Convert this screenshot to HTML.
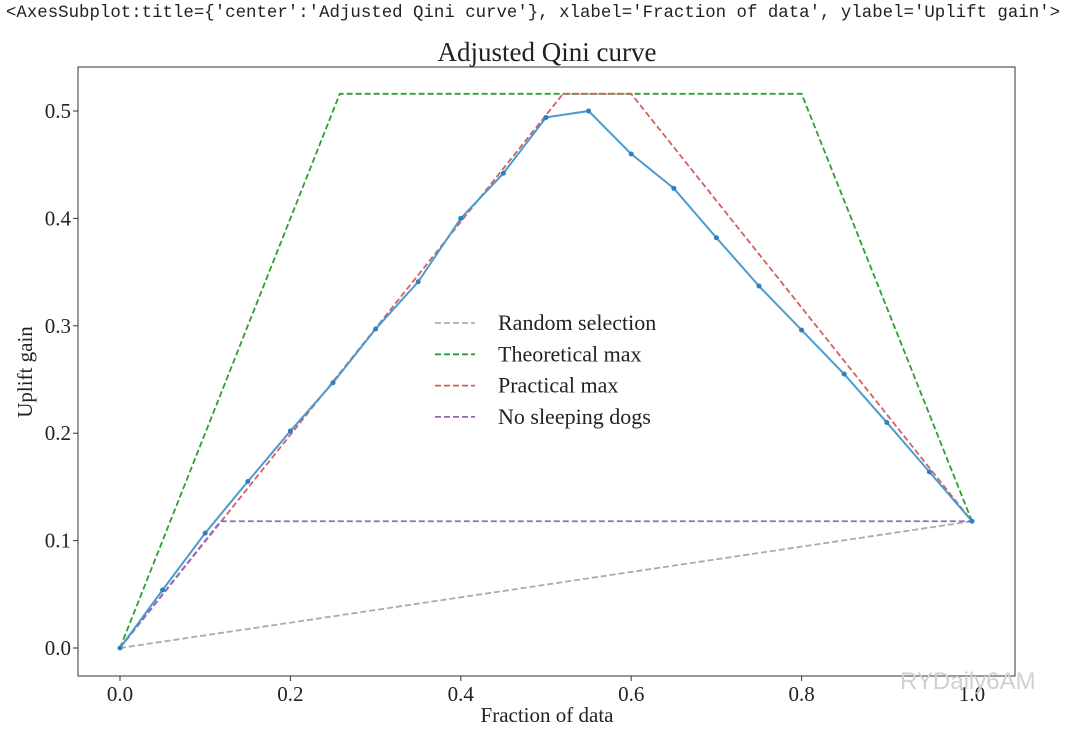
<!DOCTYPE html>
<html><head><meta charset="utf-8"><style>
body{margin:0;background:#fff;width:1080px;height:730px;overflow:hidden}
#hdr{position:absolute;left:6px;top:4px;font:17.4px "Liberation Mono",monospace;color:#222;white-space:pre}
svg{position:absolute;left:0;top:0}
text{font-family:"Liberation Serif",serif;fill:#222}
</style></head><body>
<div id="hdr">&lt;AxesSubplot:title={'center':'Adjusted Qini curve'}, xlabel='Fraction of data', ylabel='Uplift gain'&gt;</div>
<svg id="c" width="1080" height="730"></svg>
<script>
const xs=[0,0.05,0.1,0.15,0.2,0.25,0.3,0.35,0.4,0.45,0.5,0.55,0.6,0.65,0.7,0.75,0.8,0.85,0.9,0.95,1.0];
const model=[0,0.054,0.107,0.155,0.202,0.247,0.297,0.341,0.400,0.442,0.494,0.500,0.460,0.428,0.382,0.337,0.296,0.255,0.210,0.164,0.118];
const randX=[0,1],randY=[0,0.118];
const theoX=[0,0.258,0.8,1],theoY=[0,0.516,0.516,0.118];
const pracX=[0,0.52,0.6,1],pracY=[0,0.516,0.516,0.118];
const nsdX=[0,0.118,1],nsdY=[0,0.118,0.118];
const xTicks=[0,0.2,0.4,0.6,0.8,1.0];
const yTicks=[0,0.1,0.2,0.3,0.4,0.5];
const legendLabels=["Random selection","Theoretical max","Practical max","No sleeping dogs"];
const legendColors=["#aaaaaa","#2ca02c","#d0625f","#9467bd"];

const svg=document.getElementById('c');const NS='http://www.w3.org/2000/svg';
const X=v=>120+v*852, Y=v=>648-v*1074;
function el(t,a,p){const e=document.createElementNS(NS,t);for(const k in a)e.setAttribute(k,a[k]);(p||svg).appendChild(e);return e;}
const frame=el('rect',{x:78,y:67,width:937,height:609,fill:'none',stroke:'#333','stroke-width':1});


xTicks.forEach(v=>{
 const t=el('line',{x1:X(v),x2:X(v),y1:676,y2:681,stroke:'#333'});
 
 
 const l=el('text',{x:X(v),y:701,'text-anchor':'middle','font-size':21});l.textContent=v.toFixed(1);
 
 
});
yTicks.forEach(v=>{
 const t=el('line',{x1:73,x2:78,y1:Y(v),y2:Y(v),stroke:'#333'});
 
 
 const l=el('text',{x:71,y:Y(v)+7,'text-anchor':'end','font-size':21});l.textContent=v.toFixed(1);
 
 
});
function line(xa,ya,color,dash,name,w){
 const p=el('polyline',{points:xa.map((x,i)=>X(x)+','+Y(ya[i])).join(' '),fill:'none',stroke:color,'stroke-width':w||1.8,'stroke-dasharray':dash||'none'});
 
 
}
line(randX,randY,legendColors[0],'6,3','random-selection-line');
line(theoX,theoY,legendColors[1],'6,3','theoretical-max-line');
line(pracX,pracY,legendColors[2],'6,3','practical-max-line');
line(nsdX,nsdY,legendColors[3],'6,3','no-sleeping-dogs-line');
line(xs,model,'#4a9bd0',null,'model-qini-line',2);
xs.forEach((x,i)=>{
 const c=el('circle',{cx:X(x),cy:Y(model[i]),r:2.5,fill:'#2f7fbf'});
 
 
});
legendLabels.forEach((lab,i)=>{
 const y=323+i*31.3;
 const l=el('line',{x1:435,x2:475,y1:y,y2:y,stroke:legendColors[i],'stroke-width':1.8,'stroke-dasharray':'6,3'});
 
 
 const t=el('text',{x:498,y:y+7,'font-size':22});t.textContent=lab;
 
 
});
const ti=el('text',{x:547,y:61,'text-anchor':'middle','font-size':27});ti.textContent='Adjusted Qini curve';


const xl=el('text',{x:547,y:722,'text-anchor':'middle','font-size':21});xl.textContent='Fraction of data';


const yl=el('text',{x:0,y:0,'text-anchor':'middle','font-size':21,transform:'translate(32,372) rotate(-90)'});yl.textContent='Uplift gain';


const wm=el('text',{x:900,y:689,'font-size':24});wm.textContent='RYDaily6AM';
wm.setAttribute('style','fill:#d0d0d0;font-family:"Liberation Sans",sans-serif');


</script>
</body></html>
